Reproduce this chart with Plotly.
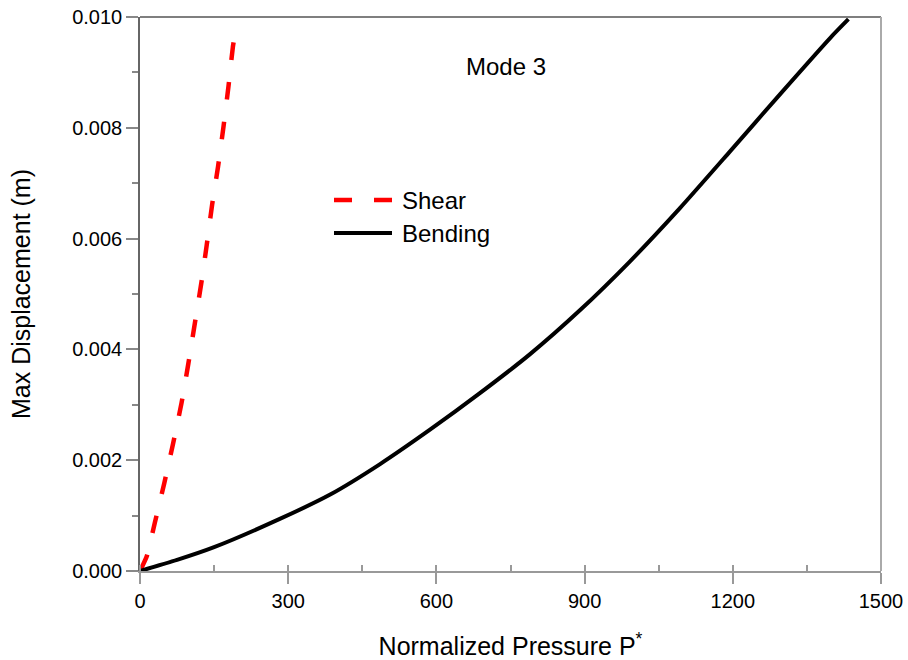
import plotly.graph_objects as go

# Data
shear_p = [0, 13.5, 30, 49, 67, 84, 98, 111, 124, 135, 146, 158, 169, 179, 188, 191]
shear_d = [0, 0.00026, 0.00087, 0.00158, 0.0023, 0.00303, 0.00375, 0.00447,
           0.00519, 0.00588, 0.00661, 0.0073, 0.00802, 0.00874, 0.00946, 0.00962]

bending_p = [0, 75, 150, 283, 385, 486, 587, 688, 789, 891, 992, 1093, 1194, 1295, 1397, 1434]
bending_d = [0, 0.0002, 0.00043, 0.00094, 0.00138, 0.00193, 0.00255, 0.00321, 0.00391,
             0.00471, 0.00559, 0.00655, 0.00757, 0.0086, 0.00962, 0.00996]

x_ticks = [0, 300, 600, 900, 1200, 1500]
y_ticks = [0.000, 0.002, 0.004, 0.006, 0.008, 0.010]
series_names = ["Shear", "Bending"]
series_colors = ["#ff0000", "#000000"]

FONT = "Liberation Sans, Arial, sans-serif"

fig = go.Figure()
fig.add_trace(go.Scatter(x=shear_p, y=shear_d, mode="lines", name=series_names[0], showlegend=False,
                         line=dict(color=series_colors[0], width=4.5, dash="18px,22px",
                                   shape="spline", smoothing=0.5)))
fig.add_trace(go.Scatter(x=bending_p, y=bending_d, mode="lines", name=series_names[1], showlegend=False,
                         line=dict(color=series_colors[1], width=4, shape="spline", smoothing=0.6)))

fig.add_annotation(x=741, y=0.0091, text="Mode 3", showarrow=False,
                   font=dict(family=FONT, size=24, color="black"))

# legend drawn in paper coordinates (plot area: 741 x 554 px)
PW, PH = 741.0, 554.0
def px(xp):
    return (xp - 140) / PW
def py(yp):
    return (571 - yp) / PH

leg_rows = [200, 233]
dashes = ["18px,22px", "solid"]
widths = [4.5, 4]
for name, color, yrow, dsh, w in zip(series_names, series_colors, leg_rows, dashes, widths):
    fig.add_shape(type="line", xref="paper", yref="paper",
                  x0=px(334), x1=px(392), y0=py(yrow), y1=py(yrow),
                  line=dict(color=color, width=w, dash=dsh))
    fig.add_annotation(xref="paper", yref="paper", x=px(400), y=py(yrow),
                       xanchor="left", yanchor="middle", text=name, showarrow=False,
                       font=dict(family=FONT, size=24, color="black"))

# frame lines (top dark, right light)
fig.add_shape(type="line", xref="paper", yref="paper", x0=0, x1=1, y0=1, y1=1,
              line=dict(color="#555555", width=1.5))
fig.add_shape(type="line", xref="paper", yref="paper", x0=1, x1=1, y0=0, y1=1,
              line=dict(color="#aaaaaa", width=2))

fig.update_layout(
    width=908, height=660,
    margin=dict(l=140, r=27, t=17, b=89, autoexpand=False),
    paper_bgcolor="white", plot_bgcolor="white",
    font=dict(family=FONT, color="black"),
    showlegend=False,
)

fig.update_xaxes(
    range=[0, 1500], tickvals=x_ticks, ticktext=[str(v) for v in x_ticks],
    automargin=False,
    showgrid=False, zeroline=False, showline=True, linecolor="#999999", linewidth=2,
    ticks="outside", ticklen=11, tickcolor="#999999", tickwidth=1.5,
    minor=dict(dtick=150, ticks="inside", ticklen=6, tickcolor="#999999", tickwidth=1.5),
    tickfont=dict(family=FONT, size=20, color="black"),
    title=dict(text="Normalized Pressure P<sup>*</sup>", font=dict(family=FONT, size=25), standoff=30),
)
fig.update_yaxes(
    range=[0, 0.010], tickvals=y_ticks, ticktext=[f"{v:.3f}" for v in y_ticks],
    automargin=False,
    showgrid=False, zeroline=False, showline=True, linecolor="#666666", linewidth=1.5,
    ticks="outside", ticklen=12, tickcolor="#888888", tickwidth=1.5,
    minor=dict(dtick=0.001, ticks="outside", ticklen=6, tickcolor="#888888", tickwidth=1.5),
    tickfont=dict(family=FONT, size=20, color="black"),
    title=dict(text="Max Displacement (m)", font=dict(family=FONT, size=25), standoff=34),
)

fig.write_html("out.html")
